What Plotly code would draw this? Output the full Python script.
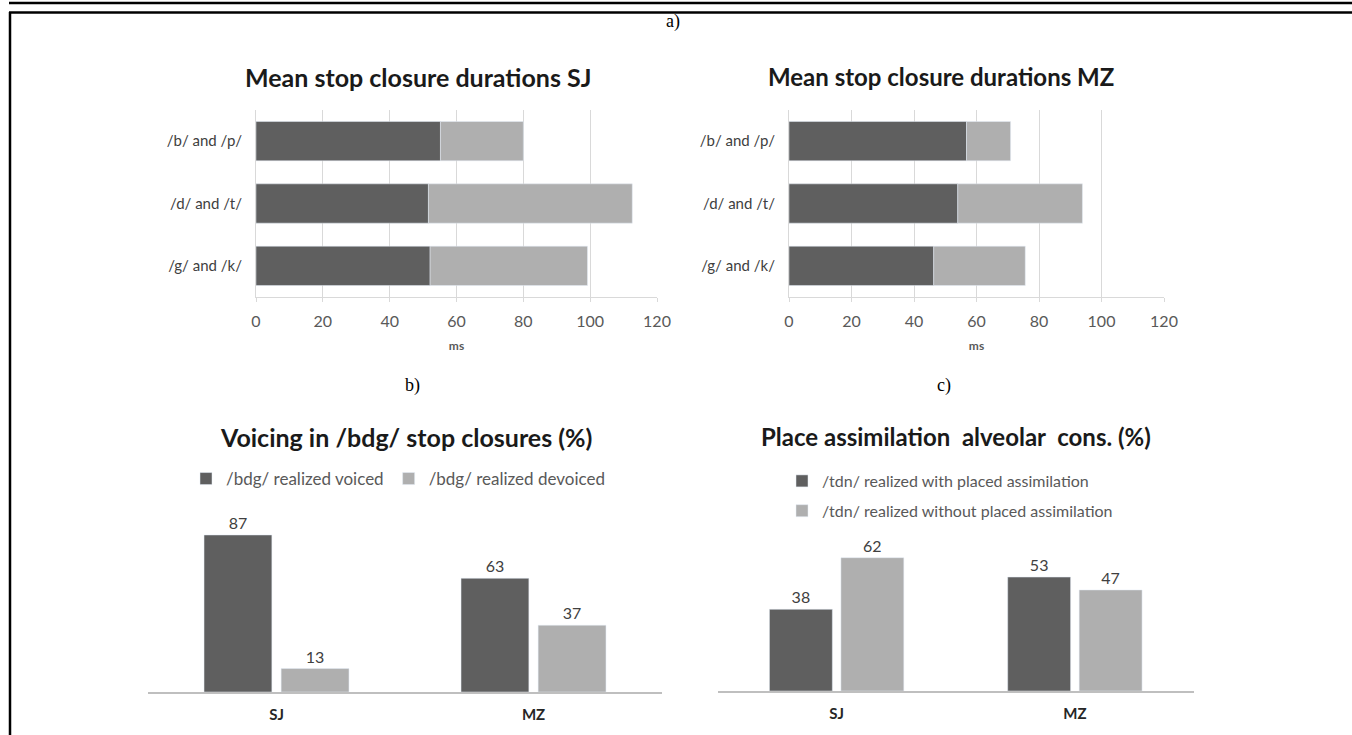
import plotly.graph_objects as go

# ---------------- data ----------------
stop_pairs = ["/b/ and /p/", "/d/ and /t/", "/g/ and /k/"]
sj_dark = [55.2, 51.6, 52.1]
sj_light = [24.8, 61.0, 47.1]
mz_dark = [56.8, 54.0, 46.3]
mz_light = [14.1, 39.9, 29.3]
duration_ticks = [0, 20, 40, 60, 80, 100, 120]

speakers = ["SJ", "MZ"]
voiced_pct = [87, 63]
devoiced_pct = [13, 37]
assim_with = [38, 53]
assim_without = [62, 47]

# ---------------- style ----------------
W, H = 1352, 735
DARK = "#5f5f5f"
LIGHT = "#afafaf"
GRID = "#d9d9d9"
TXT = "#595959"
FONT = "Lato"


def px(x):
    return x / W


def py(y):
    return 1 - y / H


fig = go.Figure()

# top-left: SJ durations (stacked via base)
fig.add_trace(go.Bar(y=stop_pairs, x=sj_dark, orientation="h", marker_color=DARK,
                     width=0.63, offsetgroup="sj", xaxis="x", yaxis="y",
                     showlegend=False, name="voiced part"))
fig.add_trace(go.Bar(y=stop_pairs, x=sj_light, base=sj_dark, orientation="h",
                     marker_color=LIGHT, width=0.63, offsetgroup="sj",
                     xaxis="x", yaxis="y", showlegend=False, name="devoiced part"))
# top-right: MZ durations
fig.add_trace(go.Bar(y=stop_pairs, x=mz_dark, orientation="h", marker_color=DARK,
                     width=0.63, offsetgroup="mz", xaxis="x2", yaxis="y2",
                     showlegend=False, name="voiced part"))
fig.add_trace(go.Bar(y=stop_pairs, x=mz_light, base=mz_dark, orientation="h",
                     marker_color=LIGHT, width=0.63, offsetgroup="mz",
                     xaxis="x2", yaxis="y2", showlegend=False, name="devoiced part"))

lab_font = dict(family=FONT, size=16, color="#404040")
# bottom-left: voicing
fig.add_trace(go.Bar(x=speakers, y=voiced_pct, marker_color=DARK, name="/bdg/ realized voiced",
                     text=voiced_pct, textposition="outside", textfont=lab_font,
                     cliponaxis=False, xaxis="x3", yaxis="y3", legend="legend"))
fig.add_trace(go.Bar(x=speakers, y=devoiced_pct, marker_color=LIGHT, name="/bdg/ realized devoiced",
                     text=devoiced_pct, textposition="outside", textfont=lab_font,
                     cliponaxis=False, xaxis="x3", yaxis="y3", legend="legend"))
# bottom-right: place assimilation
fig.add_trace(go.Bar(x=speakers, y=assim_with, marker_color=DARK,
                     name="/tdn/ realized with placed assimilation", legendgroup="g1",
                     text=assim_with, textposition="outside", textfont=lab_font,
                     cliponaxis=False, xaxis="x4", yaxis="y4", legend="legend2"))
fig.add_trace(go.Bar(x=speakers, y=assim_without, marker_color=LIGHT,
                     name="/tdn/ realized without placed assimilation", legendgroup="g2",
                     text=assim_without, textposition="outside", textfont=lab_font,
                     cliponaxis=False, xaxis="x4", yaxis="y4", legend="legend2"))

dur_x = dict(range=[0, 120], tickvals=duration_ticks, showgrid=True, gridcolor=GRID,
             gridwidth=1, showline=True, linecolor=GRID, linewidth=1, ticks="outside",
             ticklen=4, tickcolor=GRID, zeroline=False, fixedrange=True, automargin=False,
             tickfont=dict(family=FONT, size=16, color=TXT), ticklabelstandoff=6,
             title=dict(text="<b>ms</b>", font=dict(family=FONT, size=12, color=TXT), standoff=12))
dur_y = dict(categoryorder="array", categoryarray=stop_pairs, autorange="reversed",
             showline=True, linecolor=GRID, linewidth=1, ticks="", showgrid=False,
             automargin=False,
             tickfont=dict(family=FONT, size=15, color="#404040"), ticklabelstandoff=10)

cat_x = dict(showline=True, linecolor="#bfbfbf", linewidth=1.5, ticks="", automargin=False,
             tickfont=dict(family=FONT, size=15, color="#262626", weight="bold"),
             ticklabelstandoff=8, showgrid=False, zeroline=False)
hid_y = dict(range=[0, 100], visible=False, automargin=False)

fig.update_layout(
    width=W, height=H, autosize=False,
    margin=dict(l=0, r=0, t=0, b=0, pad=0, autoexpand=False),
    paper_bgcolor="white", plot_bgcolor="rgba(0,0,0,0)",
    font=dict(family=FONT, color=TXT),
    barmode="group", bargap=0.4, bargroupgap=0.12,
    xaxis=dict(domain=[px(256), px(657)], anchor="y", **dur_x),
    yaxis=dict(domain=[py(297), py(110)], anchor="x", **dur_y),
    xaxis2=dict(domain=[px(789), px(1164)], anchor="y2", **dur_x),
    yaxis2=dict(domain=[py(297), py(110)], anchor="x2", **dur_y),
    xaxis3=dict(domain=[px(148), px(662)], anchor="y3", **cat_x),
    yaxis3=dict(domain=[py(692), py(511.5)], anchor="x3", **hid_y),
    xaxis4=dict(domain=[px(717.5), px(1194)], anchor="y4", **cat_x),
    yaxis4=dict(domain=[py(691), py(476)], anchor="x4", **hid_y),
    legend=dict(orientation="h", x=px(186), y=py(479), xanchor="left", yanchor="middle",
                font=dict(family=FONT, size=17, color=TXT), bgcolor="rgba(0,0,0,0)",
                itemwidth=30),
    legend2=dict(orientation="v", x=px(782), y=py(464), xanchor="left", yanchor="top",
                 font=dict(family=FONT, size=16, color=TXT), bgcolor="rgba(0,0,0,0)",
                 tracegroupgap=6, itemwidth=30, traceorder="grouped"),
)

def tfont(size):
    return dict(family=FONT, size=size, color="#1a1a1a", weight="bold")


panel_font = dict(family="Liberation Serif", size=18, color="black")
annotations = [
    dict(text="Mean stop closure durations SJ", x=px(418), y=py(77), font=tfont(25)),
    dict(text="Mean stop closure durations MZ", x=px(941), y=py(77), font=tfont(24)),
    dict(text="Voicing in /bdg/ stop closures (%)", x=px(406), y=py(437), font=tfont(25)),
    dict(text="Place assimilation  alveolar  cons. (%)", x=px(956), y=py(437), font=tfont(24)),
    dict(text="a)", x=px(673), y=py(22), font=panel_font),
    dict(text="b)", x=px(412), y=py(385), font=panel_font),
    dict(text="c)", x=px(944), y=py(385), font=panel_font),
]
for a in annotations:
    a.update(xref="paper", yref="paper", showarrow=False, xanchor="center", yanchor="middle")
fig.update_layout(annotations=annotations)

# page frame lines
frame = [
    dict(x0=px(9), x1=1, y0=py(3), y1=py(3), width=2.5),
    dict(x0=px(9), x1=1, y0=py(12.5), y1=py(12.5), width=2.5),
    dict(x0=px(10), x1=px(10), y0=py(12), y1=0, width=2.5),
]
fig.update_layout(shapes=[dict(type="line", xref="paper", yref="paper", x0=f["x0"], x1=f["x1"],
                               y0=f["y0"], y1=f["y1"], line=dict(color="black", width=f["width"]))
                          for f in frame])

fig.write_html("out.html", include_plotlyjs=True, config={"displayModeBar": False},
               post_script="document.body.style.margin='0';document.body.style.overflow='hidden';")
